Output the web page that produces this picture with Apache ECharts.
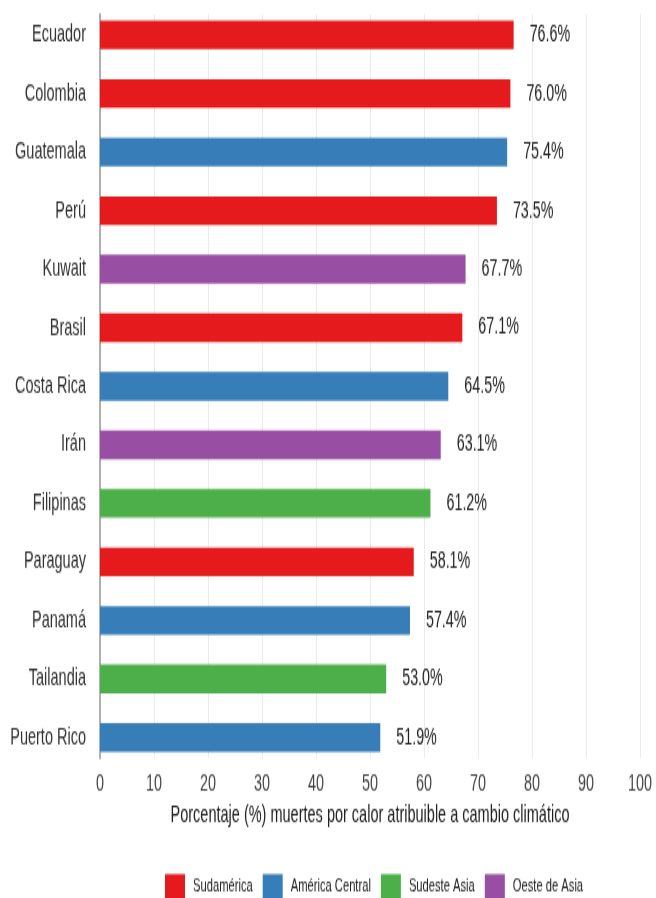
<!DOCTYPE html>
<html>
<head>
<meta charset="utf-8">
<script src="https://cdn.jsdelivr.net/npm/echarts@6/dist/echarts.min.js"></script>
<style>
html,body{margin:0;padding:0;background:#fff;overflow:hidden;width:656px;height:898px;}
#wrap{width:656px;height:898px;overflow:hidden;}
#chart{width:656px;height:544px;transform-origin:0 0;transform:scaleY(1.65074);}
</style>
</head>
<body>
<div id="wrap"><div id="chart"></div></div>
<script>
var categories = ['Ecuador','Colombia','Guatemala','Perú','Kuwait','Brasil','Costa Rica','Irán','Filipinas','Paraguay','Panamá','Tailandia','Puerto Rico'];
var values = [76.6, 76.0, 75.4, 73.5, 67.7, 67.1, 64.5, 63.1, 61.2, 58.1, 57.4, 53.0, 51.9];
var regions = ['Sudamérica','Sudamérica','América Central','Sudamérica','Oeste de Asia','Sudamérica','América Central','Oeste de Asia','Sudeste Asia','Sudamérica','América Central','Sudeste Asia','América Central'];
var regionNames = ['Sudamérica','América Central','Sudeste Asia','Oeste de Asia'];
var regionColors = ['#e41a1c','#377eb8','#4daf4a','#984ea3'];
var xTicks = [0,10,20,30,40,50,60,70,80,90,100];
var axisTitle = 'Porcentaje (%) muertes por calor atribuible a cambio climático';

var FONT = "'Liberation Sans',Arial,sans-serif";

var series = regionNames.map(function(r, ri){
  return {
    name: r,
    type: 'bar',
    stack: 'all',
    xAxisIndex: 0,
    yAxisIndex: 0,
    barWidth: '49%',
    itemStyle: {color: regionColors[ri]},
    label: {
      show: true,
      position: 'right',
      distance: 16,
      color: '#222',
      fontFamily: FONT,
      fontSize: 14.3,
      formatter: function(p){ return p.value == null || p.value === '-' ? '' : Number(p.value).toFixed(1) + '%'; }
    },
    data: values.map(function(v, i){ return regions[i] === r ? v : '-'; })
  };
});

var chart = echarts.init(document.getElementById('chart'), null, {renderer:'canvas'});
chart.setOption({
  animation: false,
  backgroundColor: '#fff',
  textStyle: {fontFamily: FONT},
  grid: [
    {left: 100, right: 16, top: 3.45, bottom: 79.5, containLabel: false, outerBoundsMode: 'none'},
    {left: 100, right: 16, top: 8.5, bottom: 84.8, containLabel: false, outerBoundsMode: 'none'}
  ],
  legend: {
    data: regionNames,
    left: 160,
    top: 524.5,
    icon: 'rect',
    itemWidth: 20,
    itemHeight: 15.1,
    itemGap: 10,
    textStyle: {fontFamily: FONT, fontSize: 11.2, color: '#222', padding: [0,0,0,3]}
  },
  xAxis: [
    {
      type: 'value', gridIndex: 0, min: 0, max: 100, interval: 10,
      axisLine: {show: false}, axisTick: {show: false}, splitLine: {show: false},
      axisLabel: {margin: 3.5, color: '#444', fontSize: 14.4, fontFamily: FONT,
        formatter: function(v){ return xTicks.indexOf(v) >= 0 ? String(v) : ''; }},
      name: axisTitle, nameLocation: 'middle', nameGap: 21.6,
      nameTextStyle: {color: '#222', fontSize: 14.5, fontFamily: FONT}
    },
    {
      type: 'value', gridIndex: 1, min: 0, max: 100, interval: 10,
      axisLine: {show: false}, axisTick: {show: false}, axisLabel: {show: false},
      splitLine: {show: true, lineStyle: {color: '#ebebeb', width: 1}}
    }
  ],
  yAxis: [
    {
      type: 'category', gridIndex: 0, data: categories, inverse: true,
      axisLine: {show: false}, axisTick: {show: false},
      axisLabel: {margin: 14, color: '#333', fontSize: 14.5, fontFamily: FONT}
    },
    {
      type: 'value', gridIndex: 1, min: 0, max: 1,
      axisLine: {show: true, onZero: false, lineStyle: {color: '#999', width: 1.5}},
      axisTick: {show: false}, axisLabel: {show: false}, splitLine: {show: false}
    }
  ],
  series: series
});
</script>
</body>
</html>
